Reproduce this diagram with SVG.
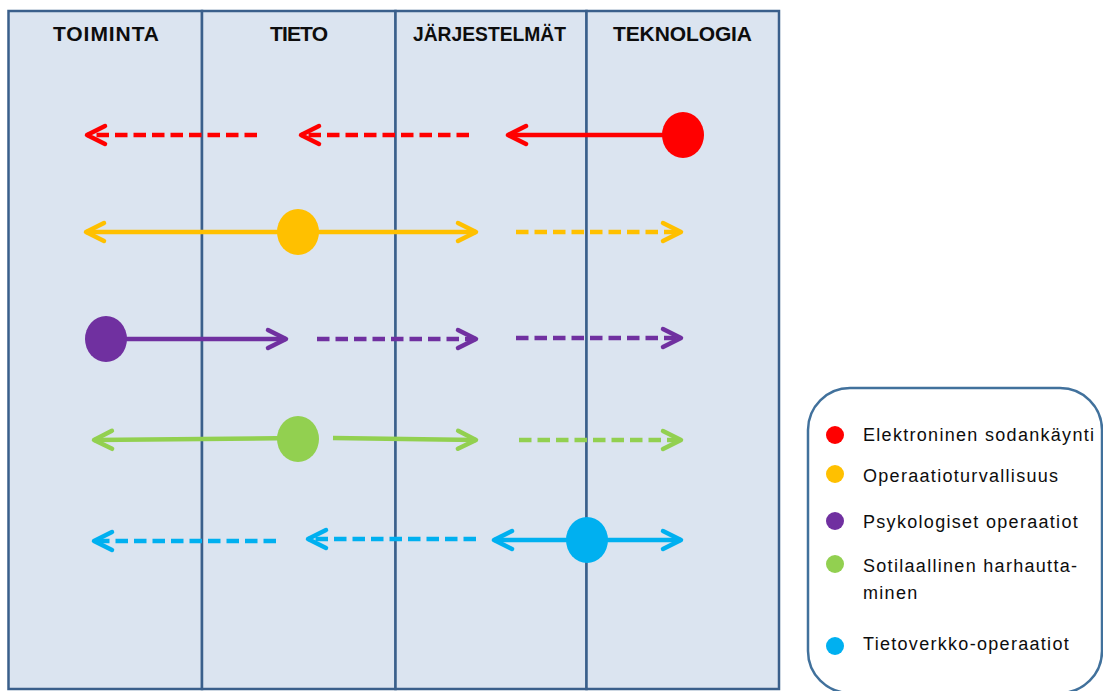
<svg xmlns="http://www.w3.org/2000/svg" width="1103" height="691" viewBox="0 0 1103 691">
  <style>
    .col { fill: #DBE4F0; stroke: #3A5F8B; stroke-width: 2.5; }
    .head { font-family: "Liberation Sans", Arial, sans-serif; font-weight: bold; font-size: 21px; fill: #0D0D0D; text-anchor: middle; }
    .lg { font-family: "Liberation Sans", Arial, sans-serif; font-size: 18px; fill: #0D0D0D; letter-spacing: 1.3px; }
    .ln { fill: none; stroke-width: 4.5; }
    .dash { stroke-dasharray: 12.5 6; }
    .red { stroke: #FF0000; }
    .org { stroke: #FFC000; }
    .pur { stroke: #7030A0; }
    .grn { stroke: #92D050; }
    .blu { stroke: #00B0F0; }
    .tip { fill: none; stroke-width: 4.5; stroke-linecap: round; stroke-linejoin: round; }
  </style>
  <defs>
    <marker id="hRed" markerUnits="userSpaceOnUse" orient="auto-start-reverse" overflow="visible" markerWidth="1" markerHeight="1" refX="0" refY="0">
      <path class="tip" stroke="#FF0000" d="M-18,-9 L0,0 L-18,9"/>
    </marker>
    <marker id="hOrg" markerUnits="userSpaceOnUse" orient="auto-start-reverse" overflow="visible" markerWidth="1" markerHeight="1" refX="0" refY="0">
      <path class="tip" stroke="#FFC000" d="M-18,-9 L0,0 L-18,9"/>
    </marker>
    <marker id="hPur" markerUnits="userSpaceOnUse" orient="auto-start-reverse" overflow="visible" markerWidth="1" markerHeight="1" refX="0" refY="0">
      <path class="tip" stroke="#7030A0" d="M-18,-9 L0,0 L-18,9"/>
    </marker>
    <marker id="hGrn" markerUnits="userSpaceOnUse" orient="auto-start-reverse" overflow="visible" markerWidth="1" markerHeight="1" refX="0" refY="0">
      <path class="tip" stroke="#92D050" d="M-18,-9 L0,0 L-18,9"/>
    </marker>
    <marker id="hBlu" markerUnits="userSpaceOnUse" orient="auto-start-reverse" overflow="visible" markerWidth="1" markerHeight="1" refX="0" refY="0">
      <path class="tip" stroke="#00B0F0" d="M-18,-9 L0,0 L-18,9"/>
    </marker>
  </defs>

  <rect width="1103" height="691" fill="#FFFFFF"/>

  <!-- four columns -->
  <g id="col-toiminta">
    <rect class="col" x="8.5" y="11" width="193.5" height="678"/>
    <text class="head" x="106" y="41" textLength="106">TOIMINTA</text>
  </g>
  <g id="col-tieto">
    <rect class="col" x="202" y="11" width="193.5" height="678"/>
    <text class="head" x="299" y="41" textLength="58">TIETO</text>
  </g>
  <g id="col-jarjestelmat">
    <rect class="col" x="395.5" y="11" width="191" height="678"/>
    <text class="head" x="489.5" y="41" textLength="153" lengthAdjust="spacingAndGlyphs">JÄRJESTELMÄT</text>
  </g>
  <g id="col-teknologia">
    <rect class="col" x="586.5" y="11" width="192.5" height="678"/>
    <text class="head" x="682.5" y="41" textLength="139">TEKNOLOGIA</text>
  </g>

  <!-- effect lines -->
  <g id="connectors">
    <!-- electronic warfare -->
    <path class="ln dash red" d="M257,135 L87,135" marker-end="url(#hRed)"/>
    <path class="ln dash red" d="M469,135 L301,135" marker-end="url(#hRed)"/>
    <path class="ln red" d="M683,135 L508,135" marker-end="url(#hRed)"/>
    <!-- operations security -->
    <path class="ln org" d="M86,232 L476,232" marker-start="url(#hOrg)" marker-end="url(#hOrg)"/>
    <path class="ln dash org" d="M516,232 L681,232" marker-end="url(#hOrg)"/>
    <!-- psychological operations -->
    <path class="ln pur" d="M106,339 L286,339" marker-end="url(#hPur)"/>
    <path class="ln dash pur" d="M317,339 L476,339" marker-end="url(#hPur)"/>
    <path class="ln dash pur" d="M516,338 L681,338" marker-end="url(#hPur)"/>
    <!-- military deception -->
    <path class="ln grn" d="M298,438 L94,440" marker-end="url(#hGrn)"/>
    <path class="ln grn" d="M333,438 L476,440" marker-end="url(#hGrn)"/>
    <path class="ln dash grn" d="M519,440 L681,440" marker-end="url(#hGrn)"/>
    <!-- network operations -->
    <path class="ln dash blu" d="M276,541 L94,541" marker-end="url(#hBlu)"/>
    <path class="ln dash blu" d="M476,539 L308,539" marker-end="url(#hBlu)"/>
    <path class="ln blu" d="M494,540 L681,540" marker-start="url(#hBlu)" marker-end="url(#hBlu)"/>
  </g>

  <!-- origin points -->
  <g id="node-ew"><ellipse cx="683" cy="135" rx="21" ry="23" fill="#FF0000"/></g>
  <g id="node-opsec"><ellipse cx="298" cy="232" rx="21" ry="23" fill="#FFC000"/></g>
  <g id="node-psyops"><ellipse cx="106" cy="339" rx="21" ry="23" fill="#7030A0"/></g>
  <g id="node-deception"><ellipse cx="298" cy="439" rx="21" ry="23" fill="#92D050"/></g>
  <g id="node-cno"><ellipse cx="587" cy="540" rx="21" ry="23" fill="#00B0F0"/></g>

  <!-- legend -->
  <g id="legend">
    <rect x="808" y="388" width="294" height="305" rx="42" ry="42" fill="#FFFFFF" stroke="#41719C" stroke-width="2.5"/>
    <circle cx="835" cy="435" r="9" fill="#FF0000"/>
    <text class="lg" x="863" y="441">Elektroninen sodankäynti</text>
    <circle cx="835" cy="474" r="9" fill="#FFC000"/>
    <text class="lg" x="863" y="482">Operaatioturvallisuus</text>
    <circle cx="835" cy="521" r="9" fill="#7030A0"/>
    <text class="lg" x="863" y="528">Psykologiset operaatiot</text>
    <circle cx="835" cy="564" r="9" fill="#92D050"/>
    <text class="lg" x="863" y="572">Sotilaallinen harhautta-</text>
    <text class="lg" x="863" y="599">minen</text>
    <circle cx="835" cy="646" r="9" fill="#00B0F0"/>
    <text class="lg" x="863" y="650">Tietoverkko-operaatiot</text>
  </g>
</svg>
